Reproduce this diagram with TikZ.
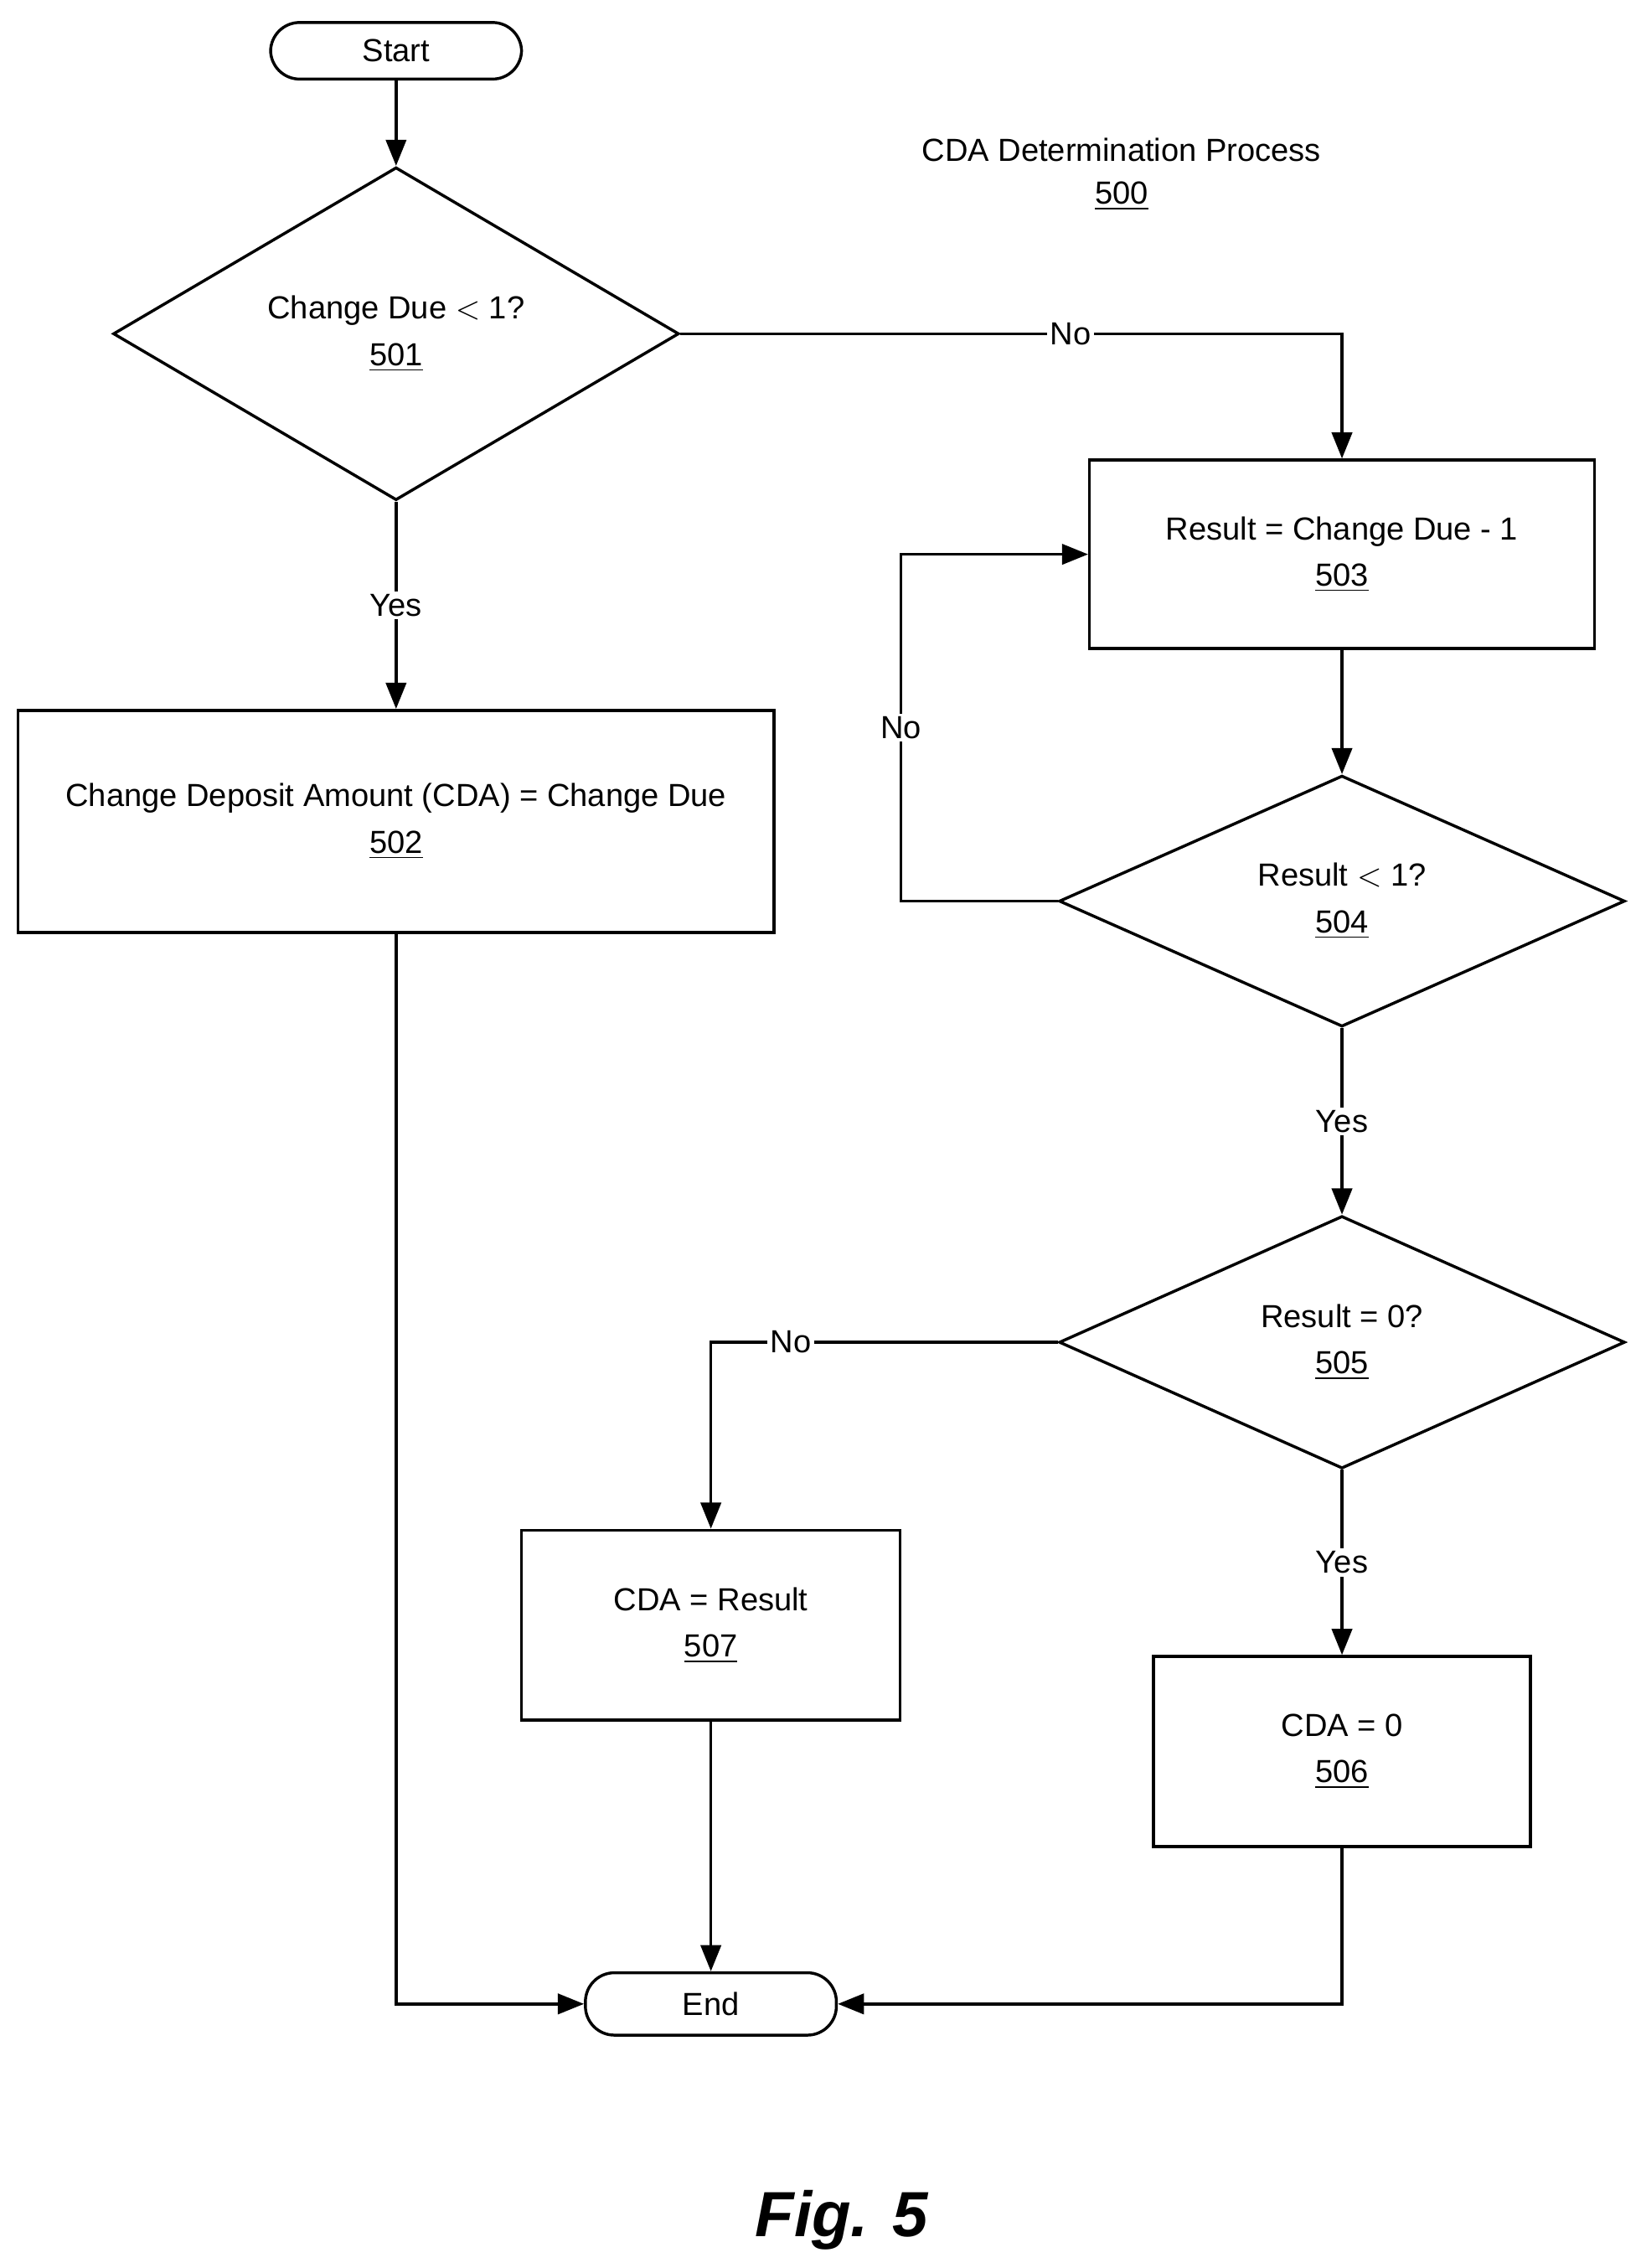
\documentclass[tikz,border=0pt]{standalone}
\usepackage{fontspec}
\setmainfont{Liberation Sans}
\usetikzlibrary{shapes.geometric,arrows.meta}
\tikzset{>={Triangle[length=9pt,width=7pt]}}
\tikzset{
  flowbox/.style={draw,line width=1pt,align=center,inner sep=0pt,font=\fontsize{11}{16}\selectfont},
  process/.style={flowbox,rectangle},
  decide/.style={flowbox,diamond},
  flow/.style={->,line width=1pt},
  tag/.style={fill=white,inner sep=1pt,font=\fontsize{11}{13}\selectfont}
}
\newcommand{\refnum}[1]{\underline{#1}}
\begin{document}
\begin{tikzpicture}[x=0.5pt,y=-0.5pt]
    \useasboundingbox (0,0) rectangle (1131,1563);
    \node[process,minimum width=86.5pt,minimum height=19.5pt,rounded corners=10pt](start) at (273,35) {Start};
    \node[font=\fontsize{11}{15}\selectfont,align=center](title) at (773,120) {CDA Determination Process\\\refnum{500}};
    \node[decide,minimum width=195pt,minimum height=86.5pt](d501) at (273,230) {Change Due $<$ 1?\\\refnum{501}};
    \node[process,minimum width=260.5pt,minimum height=76.5pt](b502) at (273,566) {Change Deposit Amount (CDA) = Change Due\\\refnum{502}};
    \node[process,minimum width=174pt,minimum height=65pt](b503) at (925,382) {Result = Change Due - 1\\\refnum{503}};
    \node[decide,minimum width=195pt,minimum height=86.5pt](d504) at (925,621) {Result $<$ 1?\\\refnum{504}};
    \node[decide,minimum width=195pt,minimum height=87pt](d505) at (925,925) {Result = 0?\\\refnum{505}};
    \node[process,minimum width=130.5pt,minimum height=65.5pt](b507) at (490,1120) {CDA = Result\\\refnum{507}};
    \node[process,minimum width=130pt,minimum height=65.5pt](b506) at (925,1207) {CDA = 0\\\refnum{506}};
    \node[process,minimum width=86.5pt,minimum height=21.5pt,rounded corners=10pt](end) at (490,1381) {End};
    \node[font=\fontsize{22}{24}\selectfont\bfseries\itshape](fig) at (580,1530) {Fig. 5};
    % connectors
    \draw[flow] (start) -- (d501);
    \draw[flow] (d501) -- node[tag]{Yes} (b502);
    \draw[flow] (d501.east) -- node[tag,pos=0.59]{No} (d501.east -| b503) -- (b503);
    \draw[flow] (b503) -- (d504);
    \draw[flow] (d504.west) -- (621,621) -- node[tag]{No} (621,382) -- (b503.west);
    \draw[flow] (d504) -- node[tag]{Yes} (d505);
    \draw[flow] (d505.west) -- node[tag,pos=0.77]{No} (d505.west -| b507) -- (b507);
    \draw[flow] (d505) -- node[tag]{Yes} (b506);
    \draw[flow] (b507) -- (end);
    \draw[flow] (b502) -- (b502 |- end) -- (end.west);
    \draw[flow] (b506) -- (b506 |- end) -- (end.east);
\end{tikzpicture}
\end{document}
